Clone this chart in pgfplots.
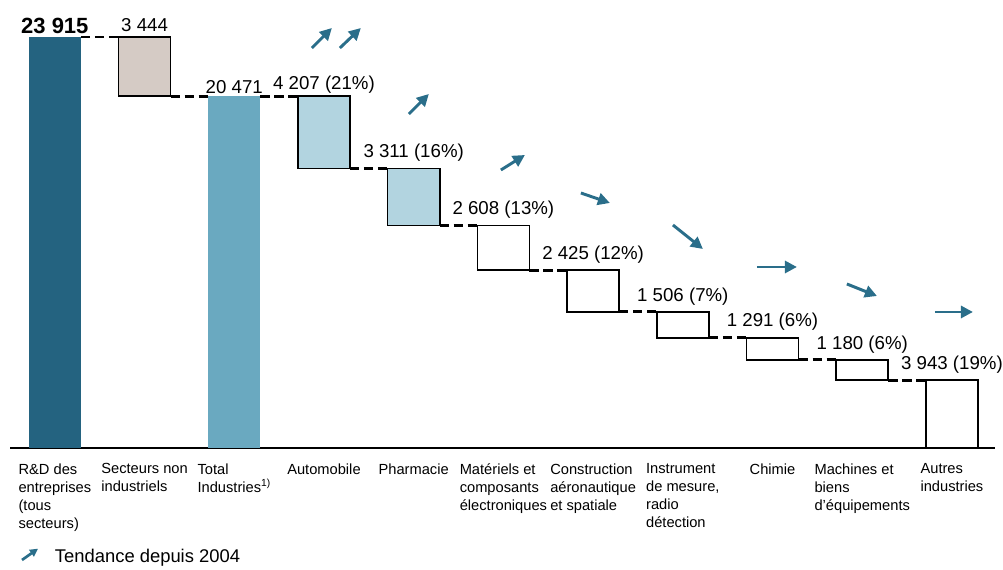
\documentclass[border=0pt]{standalone}
\usepackage{pgfplots}
\pgfplotsset{compat=1.18}
\usepackage{pgfplotstable}
\usepackage{fontspec}
\setmainfont{Liberation Sans}
\usetikzlibrary{arrows.meta}

\definecolor{cdark}{HTML}{246380}
\definecolor{cbeige}{HTML}{D5CBC5}
\definecolor{cmid}{HTML}{6AA9C0}
\definecolor{clight}{HTML}{B2D4E0}
\definecolor{carrow}{HTML}{2A6E8A}

% waterfall: invisible base + one coloured height per bar
\pgfplotstableread{
x base beige light white dark mid
0 0     0    0    0    23915 0
1 20471 3444 0    0    0     0
2 0     0    0    0    0     20471
3 16264 0    4207 0    0     0
4 12953 0    3311 0    0     0
5 10345 0    0    2608 0     0
6 7920  0    0    2425 0     0
7 6414  0    0    1506 0     0
8 5123  0    0    1291 0     0
9 3943  0    0    1180 0     0
10 0    0    0    3943 0     0
}\wfdata

% trend arrows (start point and direction)
\pgfplotstableread{
x y u v
2.865 23274 0.223 1164
3.177 23274 0.234 1164
3.946 19434 0.223 1164
4.972 16176 0.268 873
5.864 14838 0.323 -582
6.890 12976 0.334 -1397
7.826 10532 0.446 0
8.829 9543 0.335 -699
9.810 7914 0.424 0
}\trend

\pgfplotsset{samebox/.style={
  at={(0,0)}, anchor=south west,
  scale only axis,
  width=738.75pt, height=336pt,
  xmin=-0.5, xmax=10.48,
  ymin=0, ymax=26068,
  clip=false}}

\begin{document}
\begin{tikzpicture}
\begin{axis}[
  samebox,
  ybar stacked,
  bar width=0.58,
  axis x line=bottom,
  axis y line=none,
  x axis line style={-, line width=1.5pt},
  xtick={0,...,10},
  major tick length=0pt,
  xticklabels={
    {R\&D des\\entreprises\\(tous\\secteurs)},
    {Secteurs non\\industriels},
    {Total\\Industries\textsuperscript{1)}},
    {Automobile},
    {Pharmacie},
    {Matériels et\\composants\\électroniques},
    {Construction\\aéronautique\\et spatiale},
    {Instrument\\de mesure,\\radio\\détection},
    {Chimie},
    {Machines et\\biens\\d’équipements},
    {Autres\\industries}},
  xticklabel style={align=left, anchor=north, yshift=-8pt,
    font=\fontsize{11}{13.6}\selectfont},
]
\addplot[draw=none, fill=none] table[x=x, y=base] {\wfdata};
\addplot[draw=black, line width=1.2pt, fill=cbeige] table[x=x, y=beige] {\wfdata};
\addplot[draw=black, line width=1.2pt, fill=clight] table[x=x, y=light] {\wfdata};
\addplot[draw=black, line width=1.2pt, fill=white] table[x=x, y=white] {\wfdata};
\addplot[draw=none, fill=cdark] table[x=x, y=dark] {\wfdata};
\addplot[draw=none, fill=cmid] table[x=x, y=mid] {\wfdata};
\end{axis}

\begin{axis}[samebox, hide axis]
% dashed connectors between bars
\pgfplotsset{conn/.style={black, line width=2.2pt,
  dash pattern=on 7pt off 3.5pt, mark=none}}
\addplot[conn] coordinates {(0.29,23915) (0.71,23915)};
\addplot[conn] coordinates {(1.29,20471) (1.71,20471)};
\addplot[conn] coordinates {(2.29,20471) (2.71,20471)};
\addplot[conn] coordinates {(3.29,16264) (3.71,16264)};
\addplot[conn] coordinates {(4.29,12953) (4.71,12953)};
\addplot[conn] coordinates {(5.29,10345) (5.71,10345)};
\addplot[conn] coordinates {(6.29,7920) (6.71,7920)};
\addplot[conn] coordinates {(7.29,6414) (7.71,6414)};
\addplot[conn] coordinates {(8.29,5123) (8.71,5123)};
\addplot[conn] coordinates {(9.29,3943) (9.71,3943)};

\addplot[carrow, line width=2.2pt, mark=none,
  quiver={u=\thisrow{u}, v=\thisrow{v}},
  -{Triangle[length=9pt, width=9pt]}] table[x=x, y=y] {\trend};

% value labels
\begin{scope}[font=\fontsize{14}{16}\selectfont, inner sep=2pt]
\node[anchor=south, font=\bfseries\fontsize{16.5}{19}\selectfont] at (axis cs:0,23915) {23 915};
\node[anchor=south, yshift=2pt] at (axis cs:1,23915) {3 444};
\node[anchor=south] at (axis cs:2,20471) {20 471};
\node[anchor=south] at (axis cs:3,20471) {4 207 (21\%)};
\node[anchor=south, yshift=3pt] at (axis cs:4,16264) {3 311 (16\%)};
\node[anchor=south, yshift=3pt] at (axis cs:5,12953) {2 608 (13\%)};
\node[anchor=south, yshift=3pt] at (axis cs:6,10345) {2 425 (12\%)};
\node[anchor=south, yshift=3pt] at (axis cs:7,7920) {1 506 (7\%)};
\node[anchor=south, yshift=3pt] at (axis cs:8,6414) {1 291 (6\%)};
\node[anchor=south, yshift=3pt] at (axis cs:9,5123) {1 180 (6\%)};
\node[anchor=south, yshift=3pt] at (axis cs:10,3943) {3 943 (19\%)};
\end{scope}
\end{axis}

% legend
\draw[carrow, line width=2pt, -{Triangle[length=6pt, width=6pt]}] (9pt,-84pt) -- (21pt,-75.5pt);
\node[anchor=west, inner sep=0pt, font=\fontsize{13.8}{16}\selectfont] at (33.5pt,-82.5pt) {Tendance depuis 2004};

\pgfresetboundingbox
\path (-7.5pt,-91.5pt) rectangle (744.75pt,336pt);
\end{tikzpicture}
\end{document}
